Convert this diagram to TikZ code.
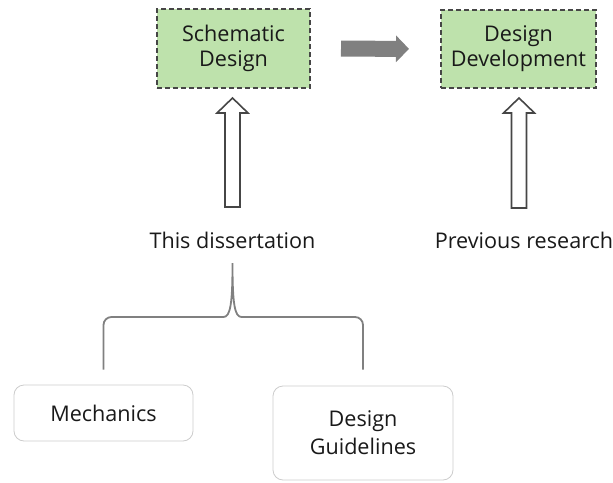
\documentclass[tikz,border=0pt]{standalone}
\usepackage{fontspec}
\setmainfont{Open Sans}
\usetikzlibrary{arrows.meta,calc}
\definecolor{boxgreen}{RGB}{190,226,172}
\definecolor{dashgray}{RGB}{70,70,70}
\definecolor{txt}{RGB}{25,25,25}
\newcommand{\hollowup}[2]{%
  \draw[hollow] let \p1=(#1), \p2=(#2) in
    (\x1-7.5pt,\y1) -- (\x1-7.5pt,\y2-15pt) -- (\x1-15.5pt,\y2-15pt) -- (\x1,\y2)
    -- (\x1+15.5pt,\y2-15pt) -- (\x1+7.5pt,\y2-15pt) -- (\x1+7.5pt,\y1) -- cycle;}
\begin{document}
\begin{tikzpicture}[x=1pt,y=-1pt,font=\fontsize{21.6}{25}\selectfont,text=txt]
  \tikzset{stage/.style={draw=dashgray,fill=boxgreen,dashed,dash pattern=on 5pt off 3pt,line width=2pt,align=center,inner sep=0pt},
    part/.style={draw=black!20,rounded corners=10pt,line width=0.8pt,align=center,inner sep=0pt},
    hollow/.style={draw=dashgray,line width=1.6pt,fill=white},
    brace/.style={draw=black!50,line width=1.8pt}}
  \useasboundingbox (0,0) rectangle (613,482);
  \node[stage,minimum width=153pt,minimum height=79pt] (sd) at (233.5,48.5) {Schematic\\Design};
  \node[stage,minimum width=155pt,minimum height=78pt] (dd) at (518.5,49) {Design\\Development};
  \node (td) at (232.5,240) {This dissertation};
  \node (pr) at (524,240) {Previous research};
  \node[part,minimum width=179pt,minimum height=56pt] (mech) at (103.5,413) {Mechanics};
  \node[part,minimum width=180pt,minimum height=94pt] (dg) at (363,433) {Design\\[3pt]Guidelines};
  % flow between the stages
  \draw[black!50,line width=16pt,-{Triangle[length=13pt,width=26pt]},shorten <=30pt,shorten >=31pt] (sd.east) -- (dd.west);
  % contributions
  \coordinate (tdtop) at ($(td.center)+(0,-33)$);
  \coordinate (prtop) at ($(pr.center)+(-5,-32)$);
  \hollowup{tdtop}{$(sd.south)+(-1,9)$}
  \hollowup{prtop}{$(dd.south)+(0.5,9)$}
  % brace
  \coordinate (tip) at ($(td.center)+(0,23)$);
  \coordinate (lvl) at ($(tip)+(0,54)$);
  \draw[brace] ($(mech.north)+(0,-15)$) -- ($(mech.north |- lvl)+(0,8)$) to[out=90,in=180] ($(mech.north |- lvl)+(8,0)$)
    -- ($(lvl)+(-9,0)$) .. controls ($(lvl)+(-2,0)$) and ($(tip)+(0,40)$) .. (tip)
    .. controls ($(tip)+(0,40)$) and ($(lvl)+(2,0)$) .. ($(lvl)+(9,0)$)
    -- ($(dg.north |- lvl)+(-8,0)$) to[out=0,in=90] ($(dg.north |- lvl)+(0,8)$) -- ($(dg.north)+(0,-16)$);
\end{tikzpicture}
\end{document}
